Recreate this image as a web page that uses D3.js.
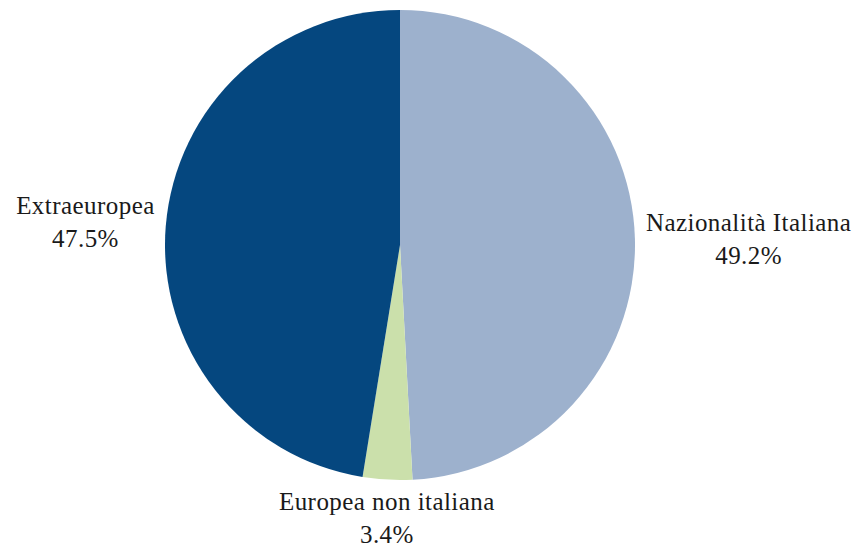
<!DOCTYPE html>
<html>
<head>
<meta charset="utf-8">
<script src="https://cdn.jsdelivr.net/npm/d3@7"></script>
<style>
  html, body { margin: 0; padding: 0; background: #ffffff; }
  svg { display: block; }
</style>
</head>
<body>
<svg id="chart" width="857" height="552"></svg>
<script>
const categories = ["Nazionalità Italiana", "Europea non italiana", "Extraeuropea"];
const values = [49.2, 3.4, 47.5];
const valueLabels = ["49.2%", "3.4%", "47.5%"];
const colors = ["#9db1cd", "#cbe0ab", "#05477f"];

const width = 857, height = 552;
const cx = 400, cy = 245, radius = 235, labelRadius = 246;
const fontSize = 25, lineHeight = 33;

const svg = d3.select("#chart");
const g = svg.append("g").attr("transform", `translate(${cx},${cy})`);

const pie = d3.pie().sort(null).value(d => d.value);
const arc = d3.arc().innerRadius(0).outerRadius(radius);

const data = categories.map((c, i) => ({ name: c, value: values[i], label: valueLabels[i], color: colors[i] }));
const arcs = pie(data);

g.selectAll("path.slice")
  .data(arcs)
  .enter().append("path")
  .attr("class", "slice")
  .attr("d", arc)
  .attr("fill", d => d.data.color);

const labels = g.selectAll("g.label")
  .data(arcs)
  .enter().append("g")
  .attr("class", "label");

labels.each(function(d) {
  const grp = d3.select(this);
  const t = grp.append("text")
    .attr("font-family", "'Liberation Serif', 'DejaVu Serif', serif")
    .attr("font-size", fontSize)
    .attr("letter-spacing", "0.45px")
    .attr("fill", "#1a1a1a")
    .attr("text-anchor", "middle");
  t.append("tspan").attr("x", 0).attr("y", 0).text(d.data.name);
  t.append("tspan").attr("x", 0).attr("y", lineHeight).text(d.data.label);
  const bb = t.node().getBBox();
  const a = (d.startAngle + d.endAngle) / 2;
  const px = labelRadius * Math.sin(a);
  const py = -labelRadius * Math.cos(a);
  const capTop = -fontSize * 0.66;
  const blockH = lineHeight + (-capTop);
  let tx, ty;
  if (Math.abs(Math.sin(a)) > 0.5) {
    tx = Math.sin(a) > 0 ? px + bb.width / 2 : px - bb.width / 2;
    ty = py - capTop - blockH / 2 + (Math.sin(a) > 0 ? 1 : -3);
  } else {
    tx = px;
    ty = Math.cos(a) < 0 ? py - capTop + 3 : py - lineHeight - 3;
  }
  grp.attr("transform", `translate(${tx},${ty})`);
});
</script>
</body>
</html>
